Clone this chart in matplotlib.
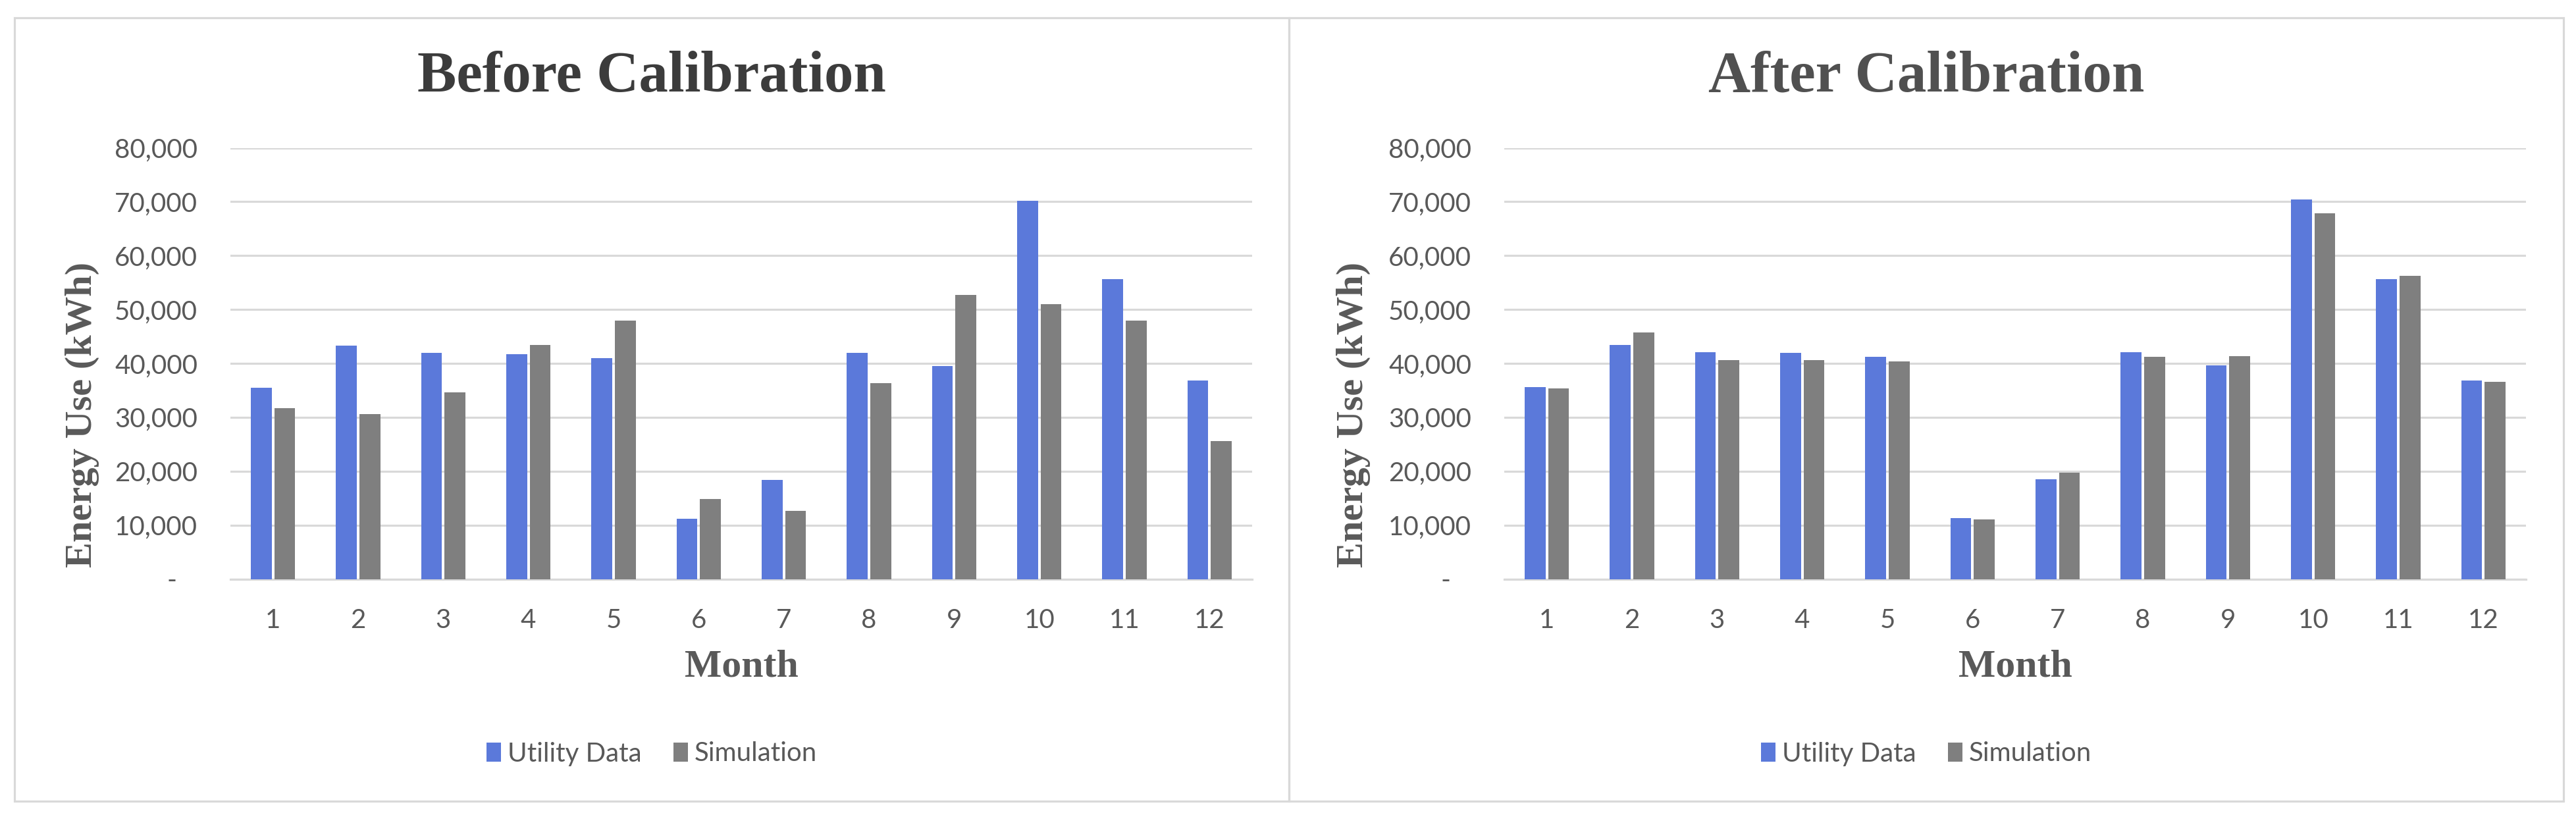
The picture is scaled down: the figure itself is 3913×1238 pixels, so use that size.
import matplotlib
matplotlib.use('Agg')
import numpy as np
import matplotlib.pyplot as plt
from matplotlib.patches import Rectangle
from matplotlib.ticker import FuncFormatter

# Datos
months = [1, 2, 3, 4, 5, 6, 7, 8, 9, 10, 11, 12]
utility_before = [35500, 43300, 42000, 41700, 41000, 11200, 18400, 42000, 39500, 70200, 55700, 36800]
sim_before = [31700, 30600, 34600, 43400, 47900, 14900, 12600, 36400, 52700, 51000, 47900, 25600]
utility_after = [35600, 43400, 42100, 41900, 41200, 11300, 18500, 42100, 39600, 70400, 55700, 36800]
sim_after = [35400, 45700, 40600, 40600, 40400, 11100, 19700, 41200, 41400, 67900, 56300, 36600]
titles = ['Before Calibration', 'After Calibration']
series_names = ['Utility Data', 'Simulation']

blue = '#5b79da'
gray = '#7f7f7f'
txt_gray = '#595959'
grid_gray = '#d9d9d9'

W, H = 3913, 1238
fig = plt.figure(figsize=(W / 100, H / 100), dpi=100)
fig.patch.set_facecolor('white')

def fmt(v, pos):
    if abs(v) < 1:
        return '-   '
    return '{:,.0f}'.format(v)

# posiciones en pixeles de cada panel
panels = [
    dict(x0=22, x1=1958, px0=350, px1=1902, ylab_x=125, title_col='#3c3c3c'),
    dict(x0=1958, x1=3894, px0=2285, px1=3837, ylab_x=2056, title_col='#505050'),
]
y_top, y_zero = 224.6, 879.5

data = [(utility_before, sim_before), (utility_after, sim_after)]
x = np.array(months)
bw = 0.245
off = 0.1375

for i, p in enumerate(panels):
    ax = fig.add_axes((p['px0'] / W, 1 - y_zero / H, (p['px1'] - p['px0']) / W, (y_zero - y_top) / H))
    u, s = data[i]
    b1 = ax.bar(x - off, u, bw, color=blue, label=series_names[0], zorder=3)
    b2 = ax.bar(x + off, s, bw, color=gray, label=series_names[1], zorder=3)

    ax.set_xlim(0.5, 12.5)
    ax.set_ylim(0, 80000)
    ax.set_yticks(np.arange(0, 80001, 10000))
    ax.yaxis.set_major_formatter(FuncFormatter(fmt))
    ax.set_xticks(x)
    ax.set_xticklabels([str(m) for m in months])
    ax.tick_params(axis='both', length=0, labelsize=29, labelcolor=txt_gray)
    ax.tick_params(axis='y', pad=36)
    ax.tick_params(axis='x', pad=32)
    for lab in ax.get_xticklabels() + ax.get_yticklabels():
        lab.set_fontfamily(['Lato', 'DejaVu Sans'])

    ax.grid(axis='y', color=grid_gray, lw=2.3, zorder=0)
    for sp in ['top', 'right', 'left']:
        ax.spines[sp].set_visible(False)
    ax.spines['bottom'].set_color(grid_gray)
    ax.spines['bottom'].set_linewidth(2.3)

    ax.set_xlabel('Month', fontsize=43, fontweight='bold', family='Liberation Serif',
                  color=txt_gray, va='center')
    ax.xaxis.set_label_coords(0.5, (y_zero - 1013) / (y_zero - y_top))
    ax.set_ylabel('Energy Use (kWh)', fontsize=42, fontweight='bold', family='Liberation Serif',
                  color=txt_gray, va='center')
    ax.yaxis.set_label_coords((p['ylab_x'] - p['px0']) / (p['px1'] - p['px0']),
                              (y_zero - 630) / (y_zero - y_top))

    cx = (p['x0'] + p['x1']) / 2 / W
    fig.text(cx, 1 - 117 / H, titles[i], fontsize=64, fontweight='bold',
             family='Liberation Serif', color=p['title_col'], ha='center', va='center')

    leg = fig.legend(handles=[b1, b2], loc='center', bbox_to_anchor=(cx, 1 - 1145 / H),
                     ncol=2, frameon=False, prop={'family': ['Lato', 'DejaVu Sans'], 'size': 29},
                     handlelength=0.55, handleheight=0.7, handletextpad=0.25, columnspacing=1.2)
    for t in leg.get_texts():
        t.set_color(txt_gray)

    # borde del panel
    fig.patches.append(Rectangle((p['x0'] / W, 1 - 1217 / H), (p['x1'] - p['x0']) / W, (1217 - 27) / H,
                                 transform=fig.transFigure, fill=False, edgecolor=grid_gray, lw=2.3))

fig.savefig('out.png', dpi=100, facecolor='white')
